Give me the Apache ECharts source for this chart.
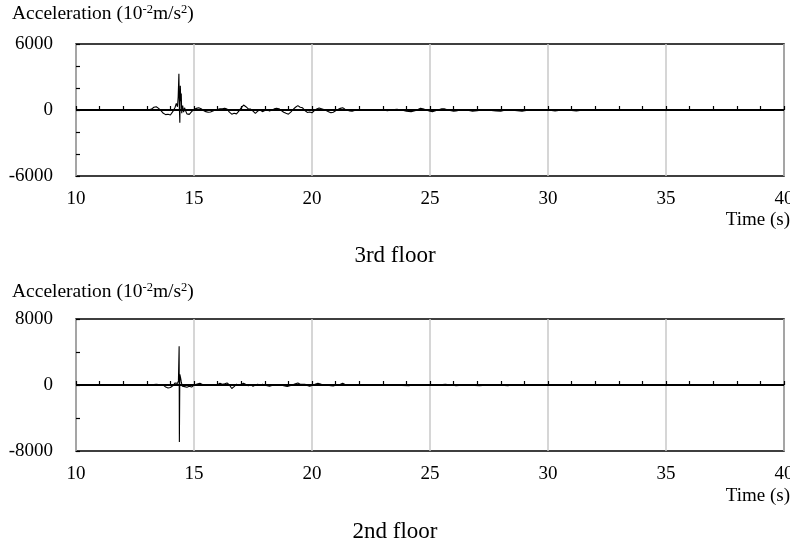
<!DOCTYPE html>
<html>
<head>
<meta charset="utf-8">
<script src="https://cdn.jsdelivr.net/npm/echarts@6/dist/echarts.min.js"></script>
<style>
  html, body { margin: 0; padding: 0; background: #fff; }
  #chart { width: 790px; height: 548px; }
</style>
</head>
<body>
<div id="chart"></div>
<script>
// Acceleration records (10^-2 m/s^2) against time (s)
const floor3Time = [12.6, 12.8, 13.0, 13.1, 13.2, 13.3, 13.4, 13.5, 13.6, 13.7, 13.8, 13.9, 14.0, 14.1, 14.2, 14.25, 14.3, 14.33, 14.36, 14.38, 14.40, 14.42, 14.44, 14.46, 14.48, 14.52, 14.56, 14.6, 14.65, 14.7, 14.75, 14.8, 14.85, 14.9, 14.95, 15.0, 15.1, 15.2, 15.3, 15.4, 15.5, 15.6, 15.7, 15.8, 15.9, 16.0, 16.1, 16.2, 16.3, 16.4, 16.5, 16.6, 16.7, 16.8, 16.9, 17.0, 17.1, 17.2, 17.3, 17.4, 17.5, 17.6, 17.7, 17.8, 17.9, 18.0, 18.1, 18.2, 18.3, 18.4, 18.5, 18.6, 18.7, 18.8, 18.9, 19.0, 19.1, 19.2, 19.3, 19.4, 19.5, 19.6, 19.7, 19.8, 19.9, 20.0, 20.1, 20.2, 20.3, 20.4, 20.5, 20.6, 20.7, 20.8, 20.9, 21.0, 21.1, 21.2, 21.3, 21.4, 21.5, 21.6, 21.7, 21.8, 21.9, 22.2, 22.5, 22.8, 23.0, 23.2, 23.4, 23.6, 23.8, 24.0, 24.2, 24.4, 24.6, 24.7, 24.9, 25.0, 25.1, 25.2, 25.4, 25.5, 25.6, 25.8, 26.0, 26.1, 26.3, 26.6, 26.8, 27.0, 27.2, 27.5, 27.8, 28.0, 28.2, 28.6, 28.9, 29.2, 29.6, 30.0, 30.3, 30.6, 31.0, 31.2, 31.5, 32.0, 32.5, 33.0, 33.5];
const floor3Acc = [0, 20, -30, 10, 80, 250, 300, 150, -50, -300, -420, -380, -450, -150, 250, 600, 300, 1200, 3300, 200, -1150, 2200, 800, 1500, -300, 400, -200, 200, -100, -350, -520, -400, -250, -150, -80, 50, 150, 200, 120, -50, -150, -200, -180, -100, 0, 50, 120, 100, 150, 80, -200, -380, -300, -350, -100, 200, 450, 300, 100, 80, -100, -300, -100, 0, -150, -50, 50, -100, 0, 100, 150, 120, -50, -200, -300, -380, -200, 50, 250, 400, 250, 200, -50, -220, -180, -250, -50, 100, 180, 120, 50, -50, -150, -250, -200, -80, 50, 150, 200, 80, -30, -80, -120, -40, 0, -20, 10, -30, 0, -60, 20, 60, 0, -120, -150, -50, 150, 120, -50, -120, -150, -80, 50, 120, 100, -30, -100, -80, 0, -30, -100, -60, 0, -20, -80, -100, 0, -30, -100, 0, -40, 0, -80, 0, -30, -80, 0, -30, 0, -20, 0];

const floor2Time = [12.7, 12.9, 13.1, 13.3, 13.4, 13.5, 13.6, 13.7, 13.8, 13.9, 14.0, 14.05, 14.1, 14.2, 14.25, 14.3, 14.34, 14.37, 14.38, 14.40, 14.43, 14.46, 14.5, 14.55, 14.6, 14.7, 14.8, 14.9, 15.0, 15.1, 15.25, 15.4, 15.6, 15.8, 16.0, 16.1, 16.2, 16.3, 16.4, 16.5, 16.6, 16.7, 16.8, 16.9, 17.0, 17.1, 17.2, 17.3, 17.4, 17.5, 17.6, 17.7, 17.8, 17.9, 18.0, 18.1, 18.2, 18.3, 18.5, 18.7, 18.8, 18.95, 19.1, 19.3, 19.4, 19.5, 19.7, 19.8, 19.9, 20.0, 20.1, 20.25, 20.4, 20.6, 20.8, 20.9, 21.0, 21.2, 21.3, 21.4, 21.6, 21.8, 22.2, 22.6, 23.0, 23.5, 23.8, 24.1, 24.3, 24.6, 25.0, 25.3, 25.65, 25.9, 26.1, 26.5, 27.1, 27.5, 28.0, 28.3, 28.5];
const floor2Acc = [0, -40, 20, 60, 100, 50, -60, -20, -250, -360, -300, -350, -100, 250, 300, 200, 500, 4700, -6900, 1300, 900, 400, -150, -300, -200, -280, -150, -250, 0, 80, 200, 0, -40, 30, 50, 200, 100, 150, 250, 0, -420, -200, 100, -50, 100, 200, 50, -100, 50, -150, 0, 100, -50, 100, 0, -100, -150, -50, 50, 0, -100, -180, -50, 150, 250, 100, 100, -50, -150, -50, 50, 200, 100, 0, -80, -120, -40, 100, 200, 50, -30, 0, -40, 0, -20, 0, -40, -100, 0, -30, -60, 0, 80, 0, -80, 0, -80, 0, -20, -80, 0];

// Axis settings
const timeMin = 10, timeMax = 40, timeStep = 5;
const floor3Range = 6000;
const floor2Range = 8000;

const panelTitles = ['3rd floor', '2nd floor'];
const yAxisName = '{n|Acceleration (10}{s|-2}{n|m/s}{s|2}{n|)}';
const xAxisName = 'Time (s)';

const serif = '"Liberation Serif", "Times New Roman", serif';

function pairs(t, a) { return t.map((v, i) => [v, a[i]]); }

function xAxisFor(gridIndex) {
  return {
    type: 'value', gridIndex, min: timeMin, max: timeMax, interval: timeStep,
    axisLine: { show: false },
    axisTick: { show: true, inside: true, length: 4, lineStyle: { color: '#000', width: 1.2 } },
    minorTick: { show: true, splitNumber: 5, length: 4, lineStyle: { color: '#000', width: 1.2 } },
    splitLine: { show: true, lineStyle: { color: '#c8c8c8', width: 1.5 } },
    axisLabel: { color: '#000', fontFamily: serif, fontSize: 19, margin: 14, formatter: v => String(v) }
  };
}

function yAxisFor(gridIndex, range, splits) {
  return {
    type: 'value', gridIndex, min: -range, max: range, interval: range,
    axisLine: { show: false },
    axisTick: { show: true, inside: true, length: 4, lineStyle: { color: '#000', width: 1.2 } },
    minorTick: { show: true, splitNumber: splits, length: 4, lineStyle: { color: '#000', width: 1.2 } },
    splitLine: { show: false },
    axisLabel: { color: '#000', fontFamily: serif, fontSize: 19, margin: 23, formatter: v => String(v) }
  };
}

function seriesFor(idx, t, a) {
  return {
    type: 'line', xAxisIndex: idx, yAxisIndex: idx,
    data: pairs(t, a), showSymbol: false, symbol: 'none',
    lineStyle: { color: '#000', width: 1.1 },
    animation: false,
    markLine: {
      silent: true, symbol: 'none', label: { show: false },
      lineStyle: { color: '#000', width: 1.8, type: 'solid' },
      data: [{ yAxis: 0 }], animation: false
    }
  };
}

const nameRich = {
  n: { fontFamily: serif, fontSize: 19.5, fontWeight: 'normal', color: '#000', lineHeight: 22 },
  s: { fontFamily: serif, fontSize: 12.5, fontWeight: 'normal', color: '#000', lineHeight: 22, verticalAlign: 'top', padding: [0, 0, 8, 0] }
};
const plainText = size => ({ fontFamily: serif, fontSize: size, fontWeight: 'normal', color: '#000' });

const chart = echarts.init(document.getElementById('chart'), null, { renderer: 'canvas' });
chart.setOption({
  backgroundColor: '#fff',
  animation: false,
  title: [
    { text: yAxisName, left: 12, top: 3, padding: 0, textStyle: { fontWeight: 'normal', rich: nameRich } },
    { text: yAxisName, left: 12, top: 281, padding: 0, textStyle: { fontWeight: 'normal', rich: nameRich } },
    { text: xAxisName, right: 0, top: 211, padding: 0, textStyle: plainText(19) },
    { text: xAxisName, right: 0, top: 487, padding: 0, textStyle: plainText(19) },
    { text: panelTitles[0], left: 'center', top: 244, padding: 0, textStyle: plainText(23) },
    { text: panelTitles[1], left: 'center', top: 520, padding: 0, textStyle: plainText(23) }
  ],
  grid: [
    { left: 76, right: 6, top: 44, height: 132, show: true, borderColor: '#000', borderWidth: 1.5, backgroundColor: 'transparent', outerBoundsMode: 'none', containLabel: false },
    { left: 76, right: 6, top: 319, height: 132, show: true, borderColor: '#000', borderWidth: 1.5, backgroundColor: 'transparent', outerBoundsMode: 'none', containLabel: false }
  ],
  xAxis: [xAxisFor(0), xAxisFor(1)],
  yAxis: [yAxisFor(0, floor3Range, 3), yAxisFor(1, floor2Range, 2)],
  series: [seriesFor(0, floor3Time, floor3Acc), seriesFor(1, floor2Time, floor2Acc)]
});
</script>
</body>
</html>
